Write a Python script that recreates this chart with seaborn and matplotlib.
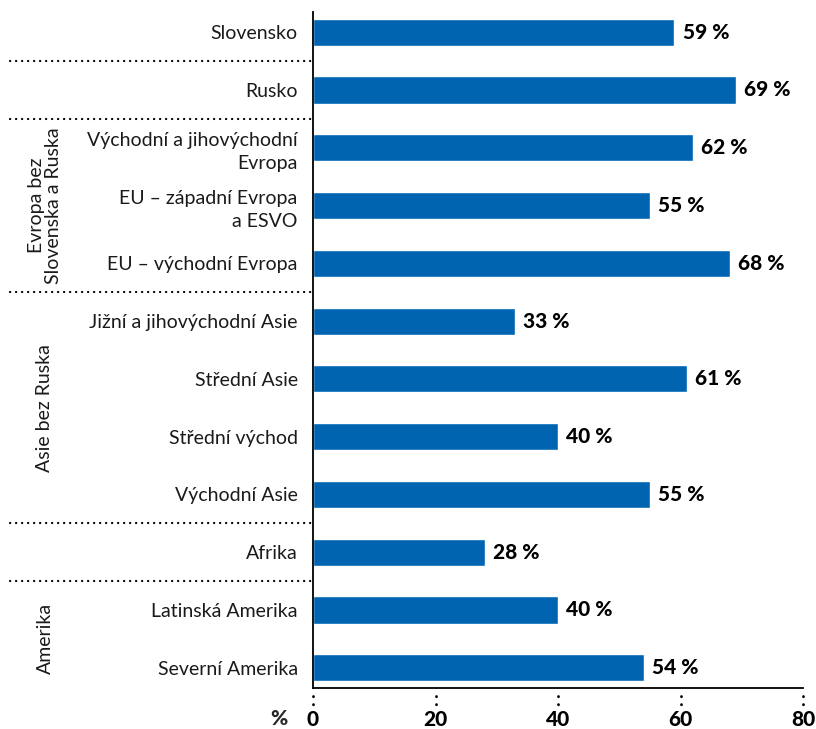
import matplotlib
matplotlib.use("Agg")
import matplotlib.pyplot as plt
import matplotlib.transforms as mtransforms
import seaborn as sns
import pandas as pd

categories = [
    "Slovensko",
    "Rusko",
    "Východní a jihovýchodní\nEvropa",
    "EU – západní Evropa\na ESVO",
    "EU – východní Evropa",
    "Jižní a jihovýchodní Asie",
    "Střední Asie",
    "Střední východ",
    "Východní Asie",
    "Afrika",
    "Latinská Amerika",
    "Severní Amerika",
]
values = [59, 69, 62, 55, 68, 33, 61, 40, 55, 28, 40, 54]
xticks = [0, 20, 40, 60, 80]
groups = [
    ("Evropa bez\nSlovenska a Ruska", 3.0),
    ("Asie bez Ruska", 6.5),
    ("Amerika", 10.5),
]
separators = [0.5, 1.5, 4.5, 8.5, 9.5]

sns.set_theme(style="white")
plt.rcParams["font.family"] = ["Lato", "DejaVu Sans"]

df = pd.DataFrame({"cat": categories, "val": values})

fig = plt.figure(figsize=(8.16, 7.29), dpi=100)
ax = fig.add_axes([313 / 816, 1 - 688 / 729, 490 / 816, (688 - 12) / 729])

sns.barplot(data=df, x="val", y="cat", orient="h", color="#0064B1",
            width=0.47, saturation=1, ax=ax)

ax.set_xlim(0, 80)
ax.set_ylim(11.35, -0.35)
ax.set_xticks(xticks)
ax.set_xticklabels([str(t) for t in xticks], fontsize=15, fontweight="black",
                   color="black")
ax.set_xlabel("")
ax.set_ylabel("")
ax.tick_params(axis="both", length=0)
ax.tick_params(axis="y", pad=11, labelsize=14)
ax.tick_params(axis="x", pad=16)
for lab in ax.get_yticklabels():
    lab.set_horizontalalignment("right")
    lab.set_multialignment("right")
    lab.set_color("#1a1a1a")
    lab.set_linespacing(1.4)

for s in ["top", "right"]:
    ax.spines[s].set_visible(False)
for s in ["left", "bottom"]:
    ax.spines[s].set_color("black")
    ax.spines[s].set_linewidth(1.3)

ax.bar_label(ax.containers[0], fmt="%d %%", padding=6, fontsize=15,
             fontweight="black", color="black")

dot_style = (0, (0.1, 2.6))

# dotted ticks below x-axis
trans_x = mtransforms.blended_transform_factory(ax.transData, ax.transAxes)
for t in xticks:
    ax.plot([t, t], [-0.0125, -0.027], transform=trans_x, color="black",
            linestyle=(0, (0.1, 2.8)), linewidth=2.0, clip_on=False,
            dash_capstyle="round")

# group separators
trans_y = mtransforms.blended_transform_factory(ax.transAxes, ax.transData)
for y in separators:
    ax.plot([-0.618, -0.004], [y, y], transform=trans_y, color="black",
            linestyle=dot_style, linewidth=1.6, clip_on=False,
            dash_capstyle="round")

# group labels
for name, yc in groups:
    ax.text(-0.547, yc, name, transform=trans_y, rotation=90,
            ha="center", va="center", fontsize=14, color="#1a1a1a",
            multialignment="center", linespacing=1.05)

# percent sign on axis
ax.text(-0.069, -0.0455, "%", transform=ax.transAxes, ha="center", va="center",
        fontsize=15, fontweight="black")

fig.savefig("out.png", dpi=100)
